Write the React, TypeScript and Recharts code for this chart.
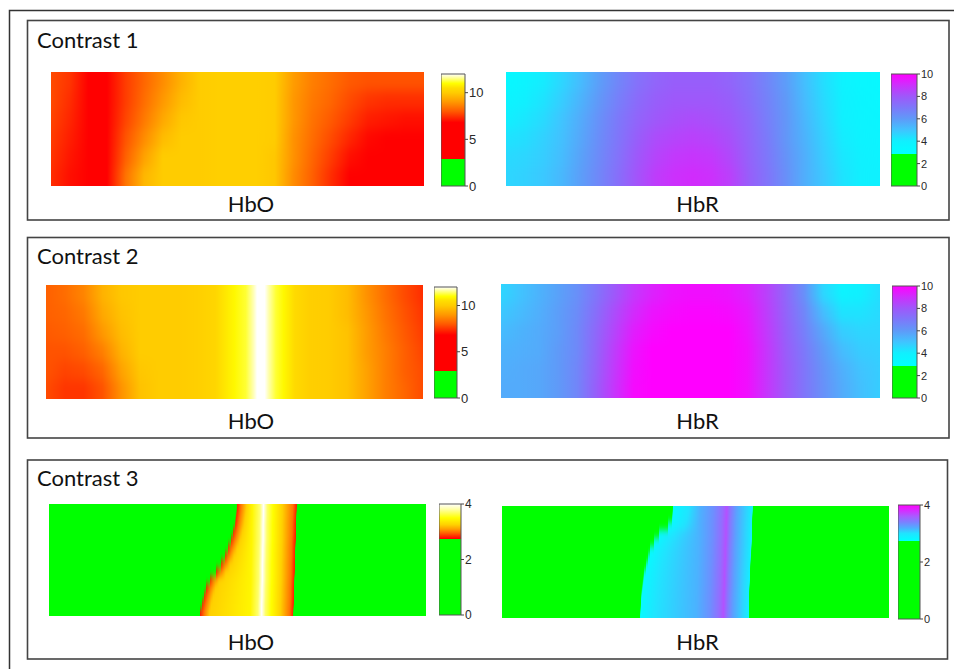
import React from 'react';
import { BarChart, Bar, XAxis, YAxis } from 'recharts';

type Stop = [number, string];
type Point = [number, number];

// sample positions across each map, in % of its width
const xs5 = [0, 5, 10, 15, 20, 25, 30, 35, 40, 45, 50, 55, 60, 65, 70, 75, 80, 85, 90, 95, 100];
const c2HboXs = [0, 5, 10, 15, 20, 25, 30, 35, 40, 45, 50, 53, 55, 56, 57, 58, 59, 61, 63, 66, 70, 75, 80, 85, 90, 95, 100];

// Contrast 1 (rows top -> bottom)
const c1Hbo = [
  [7.8, 7.5, 6.6, 6.5, 7.6, 8.2, 8.8, 9.5, 10, 10.1, 10.1, 10.1, 10, 9.1, 8.6, 8.3, 8.0, 7.9, 7.9, 7.9, 7.9],
  [7.8, 7.4, 6.5, 6.4, 7.6, 8.3, 9.0, 9.7, 10, 10.1, 10.1, 10.1, 10, 9.0, 8.5, 8.2, 7.8, 7.5, 7.4, 7.4, 7.4],
  [7.7, 7.3, 6.4, 6.4, 7.7, 8.5, 9.3, 9.9, 10, 10.1, 10.1, 10.1, 10, 9.0, 8.4, 8.0, 7.6, 7.2, 7.1, 7.0, 7.0],
  [7.6, 7.2, 6.3, 6.5, 7.9, 8.8, 9.7, 10, 10, 10.1, 10.1, 10.1, 10, 8.9, 8.3, 7.8, 7.3, 6.9, 6.8, 6.7, 6.7],
  [7.5, 7.1, 6.2, 6.6, 8.1, 9.2, 10, 10, 10, 10.1, 10.1, 10.1, 9.9, 8.9, 8.2, 7.6, 7.0, 6.5, 6.3, 6.2, 6.2],
  [7.4, 7.0, 6.1, 6.8, 8.4, 9.6, 10, 10, 10, 10.1, 10.1, 10.1, 9.9, 8.8, 8.1, 7.4, 6.7, 6.2, 6.0, 6.0, 6.0],
];
const c1Hbr = [
  [3.4, 3.7, 4.1, 4.6, 5.2, 5.9, 6.6, 7.2, 7.6, 7.8, 7.8, 7.8, 7.6, 7.2, 6.6, 5.9, 5.1, 4.4, 3.8, 3.5, 3.4],
  [3.7, 4.0, 4.3, 4.8, 5.4, 6.1, 6.8, 7.4, 7.8, 8.0, 8.0, 8.0, 7.8, 7.3, 6.7, 6.0, 5.2, 4.5, 3.9, 3.6, 3.5],
  [4.0, 4.2, 4.5, 5.0, 5.6, 6.3, 7.0, 7.6, 8.0, 8.2, 8.3, 8.2, 8.0, 7.5, 6.8, 6.1, 5.3, 4.6, 4.0, 3.7, 3.6],
  [4.3, 4.4, 4.7, 5.1, 5.7, 6.4, 7.1, 7.8, 8.3, 8.5, 8.6, 8.5, 8.2, 7.6, 6.9, 6.1, 5.4, 4.7, 4.1, 3.8, 3.7],
  [4.5, 4.6, 4.8, 5.2, 5.8, 6.5, 7.2, 8.0, 8.5, 8.8, 8.9, 8.8, 8.4, 7.7, 7.0, 6.2, 5.5, 4.8, 4.2, 3.9, 3.8],
  [4.6, 4.7, 4.9, 5.3, 5.9, 6.6, 7.3, 8.1, 8.7, 9.0, 9.1, 9.0, 8.6, 7.8, 7.1, 6.3, 5.5, 4.9, 4.3, 4.0, 3.9],
];

// Contrast 2
const c2Hbo = [
  [8.1, 8.3, 8.7, 9.5, 9.9, 10, 10, 10, 10.1, 10.3, 10.9, 11.2, 11.7, 12, 12, 12, 11.7, 11.2, 10.9, 10.4, 10.1, 10, 9.7, 8.9, 8.3, 7.8, 7.4],
  [8.1, 8.2, 8.5, 9.3, 9.8, 10, 10, 10, 10.1, 10.3, 10.9, 11.2, 11.7, 12, 12, 12, 11.7, 11.2, 10.9, 10.4, 10.1, 10, 9.7, 9.0, 8.4, 7.9, 7.5],
  [8.0, 8.1, 8.3, 9.0, 9.7, 10, 10, 10, 10.1, 10.3, 10.9, 11.2, 11.7, 12, 12, 12, 11.7, 11.2, 10.9, 10.4, 10.1, 10, 9.8, 9.1, 8.5, 8.0, 7.6],
  [7.9, 7.9, 8.1, 8.6, 9.5, 10, 10, 10, 10.1, 10.3, 10.9, 11.2, 11.7, 12, 12, 12, 11.7, 11.2, 10.9, 10.4, 10.1, 10, 9.8, 9.1, 8.6, 8.1, 7.7],
  [7.9, 7.7, 7.8, 8.2, 9.2, 9.9, 10, 10, 10.1, 10.3, 10.9, 11.2, 11.7, 12, 12, 12, 11.7, 11.2, 10.9, 10.4, 10.1, 10, 9.8, 9.2, 8.6, 8.1, 7.8],
  [7.8, 7.5, 7.5, 7.9, 8.9, 9.8, 10, 10, 10.1, 10.3, 10.9, 11.2, 11.7, 12, 12, 12, 11.7, 11.2, 10.9, 10.4, 10.1, 10, 9.8, 9.2, 8.6, 8.2, 7.8],
];
const c2Hbr = [
  [4.6, 5.0, 5.4, 5.8, 6.3, 7.1, 8.0, 8.8, 9.3, 9.6, 9.7, 9.7, 9.6, 9.3, 8.6, 7.6, 6.3, 4.6, 3.8, 4.0, 4.4],
  [4.9, 5.2, 5.5, 5.9, 6.4, 7.3, 8.3, 9.1, 9.6, 9.8, 9.9, 9.9, 9.8, 9.5, 8.7, 7.7, 6.6, 5.2, 4.3, 4.3, 4.5],
  [5.2, 5.4, 5.6, 5.9, 6.5, 7.5, 8.5, 9.4, 9.8, 10, 10, 10, 10, 9.6, 8.8, 7.8, 6.8, 5.7, 4.8, 4.6, 4.6],
  [5.4, 5.5, 5.6, 6.0, 6.5, 7.6, 8.7, 9.6, 10, 10, 10, 10, 10, 9.7, 8.9, 7.9, 7.0, 6.0, 5.2, 4.8, 4.7],
  [5.5, 5.6, 5.7, 6.0, 6.6, 7.7, 8.8, 9.7, 10, 10, 10, 10, 10, 9.7, 8.9, 8.0, 7.1, 6.2, 5.5, 5.0, 4.8],
  [5.6, 5.6, 5.7, 6.0, 6.6, 7.8, 8.9, 9.8, 10, 10, 10, 10, 10, 9.7, 8.9, 8.0, 7.1, 6.3, 5.6, 5.1, 4.8],
];

// Contrast 3: the active band only; every row gives where each level sits (% of width)
const c3Below = 1;
const c3HboLevels = [2.8, 3.0, 3.25, 3.45, 3.7, 4.0, 3.7, 3.5, 3.25, 3.0, 2.8];
const c3HboEdges = [
  [49.9, 50.9, 52.4, 53.9, 55.9, 56.9, 57.9, 59.4, 61.9, 64.7, 65.7],
  [49.6, 50.6, 52.1, 53.9, 55.9, 56.9, 57.9, 59.4, 61.9, 64.6, 65.6],
  [49.3, 50.3, 51.8, 53.8, 55.8, 56.8, 57.8, 59.3, 61.8, 64.5, 65.5],
  [48.8, 49.8, 51.3, 53.8, 55.8, 56.8, 57.8, 59.3, 61.8, 64.5, 65.5],
  [48.2, 49.2, 50.7, 53.8, 55.8, 56.8, 57.8, 59.3, 61.8, 64.4, 65.4],
  [47.4, 48.4, 49.9, 53.7, 55.7, 56.7, 57.7, 59.2, 61.7, 64.3, 65.3],
  [46.6, 47.6, 49.1, 53.7, 55.7, 56.7, 57.7, 59.2, 61.7, 64.3, 65.3],
  [45.6, 46.6, 48.1, 53.6, 55.6, 56.6, 57.6, 59.1, 61.6, 64.2, 65.2],
  [44.4, 45.4, 46.9, 53.6, 55.6, 56.6, 57.6, 59.1, 61.6, 64.2, 65.2],
  [42.6, 43.6, 45.1, 53.6, 55.6, 56.6, 57.6, 59.1, 61.6, 64.1, 65.1],
  [41.7, 42.7, 44.2, 53.5, 55.5, 56.5, 57.5, 59.0, 61.5, 64.0, 65.0],
  [41.1, 42.1, 43.6, 53.5, 55.5, 56.5, 57.5, 59.0, 61.5, 64.0, 65.0],
  [40.6, 41.6, 43.1, 53.4, 55.4, 56.4, 57.4, 58.9, 61.4, 63.9, 64.9],
  [40.1, 41.1, 42.6, 53.4, 55.4, 56.4, 57.4, 58.9, 61.4, 63.8, 64.8],
];
const c3HbrLevels = [2.8, 3.0, 3.18, 3.33, 3.5, 3.65, 3.45, 3.25, 3.05, 2.9];
const c3HbrEdges = [
  [44.2, 48.2, 51.1, 54.6, 56.9, 58.1, 59.1, 60.6, 63.3, 64.8],
  [43.8, 47.8, 51.0, 54.5, 56.8, 58.0, 59.0, 60.5, 63.2, 64.7],
  [43.0, 47.0, 50.9, 54.4, 56.7, 57.9, 58.9, 60.4, 63.1, 64.6],
  [40.5, 44.5, 50.9, 54.4, 56.7, 57.9, 58.9, 60.4, 63.0, 64.5],
  [39.2, 43.2, 50.8, 54.3, 56.6, 57.8, 58.8, 60.3, 63.0, 64.5],
  [38.3, 42.3, 50.7, 54.2, 56.5, 57.7, 58.7, 60.2, 62.9, 64.4],
  [37.7, 41.7, 50.7, 54.2, 56.5, 57.7, 58.7, 60.2, 62.8, 64.3],
  [37.2, 41.2, 50.6, 54.1, 56.4, 57.6, 58.6, 60.1, 62.7, 64.2],
  [36.8, 40.8, 50.5, 54.0, 56.3, 57.5, 58.5, 60.0, 62.6, 64.1],
  [36.5, 40.5, 50.5, 54.0, 56.3, 57.5, 58.5, 60.0, 62.5, 64.0],
  [36.2, 40.2, 50.4, 53.9, 56.2, 57.4, 58.4, 59.9, 62.4, 63.9],
  [36.0, 40.0, 50.3, 53.8, 56.1, 57.3, 58.3, 59.8, 62.4, 63.9],
  [35.8, 39.8, 50.3, 53.8, 56.1, 57.3, 58.3, 59.8, 62.3, 63.8],
  [35.6, 39.6, 50.2, 53.7, 56.0, 57.2, 58.2, 59.7, 62.2, 63.7],
];

const hboTicks = [0, 5, 10];
const hbrTicks = [0, 2, 4, 6, 8, 10];
const c3Ticks = [0, 2, 4];

// colour scales
const G = '#00ff00';
const hboScale: Stop[] = [[0, G], [2.9, G], [2.9, '#ff0000'], [6.8, '#ff0000'], [8, '#ff5a00'], [9, '#ff9800'], [10, '#ffcc00'], [10.5, '#ffdd00'], [11, '#ffff00'], [11.5, '#ffff80'], [12, '#ffffff']];
const hbrScale: Stop[] = [[0, G], [2.9, G], [2.9, '#00ffff'], [4, '#10f0ff'], [5, '#40c4ff'], [6, '#5f9af8'], [7, '#7d78fa'], [8, '#9e58fa'], [9, '#cc30fc'], [10, '#ff00ff']];
const hboScale3: Stop[] = [[0, G], [2.75, G], [2.75, '#ff0000'], [2.95, '#ff6000'], [3.1, '#ffa000'], [3.25, '#ffd000'], [3.5, '#ffff00'], [3.8, '#ffffa0'], [4, '#ffffff']];
const hbrScale3: Stop[] = [[0, G], [2.75, G], [2.75, '#00ffff'], [3.0, '#20e4ff'], [3.2, '#50acff'], [3.4, '#7c80ff'], [3.6, '#a85cff'], [3.8, '#d42eff'], [4, '#ff00ff']];

const rgb = (c: string) => [1, 3, 5].map(i => parseInt(c.slice(i, i + 2), 16));
const colorAt = (stops: Stop[], v: number) => {
  if (v <= stops[0][0]) return stops[0][1];
  for (let i = 0; i < stops.length - 1; i++) {
    const [a, ca] = stops[i];
    const [b, cb] = stops[i + 1];
    if (b > a && v >= a && v < b) {
      const t = (v - a) / (b - a);
      const p = rgb(ca), q = rgb(cb);
      return `rgb(${p.map((x, k) => Math.round(x + (q[k] - x) * t)).join(',')})`;
    }
  }
  return stops[stops.length - 1][1];
};

const gridRows = (xs: number[], rows: number[][]): Point[][] =>
  rows.map(r => r.map((v, i) => [xs[i], v] as Point));
const bandRows = (edges: number[][], levels: number[], below: number): Point[][] =>
  edges.map(e => [
    [0, below], [e[0], below],
    ...e.map((x, i) => [x, levels[i]] as Point),
    [e[e.length - 1], below], [100, below],
  ] as Point[]);

// rows are drawn as full-width bars; the outer ones run past the plot so the
// vertical smoothing does not fade at the edges (the overflow is clipped)
const EXT = 20;
const Heatmap = ({ id, rows, scale, width, height, blur }: { id: string; rows: Point[][]; scale: Stop[]; width: number; height: number; blur: string }) => {
  const data = rows.map((_, i) => ({ row: i, span: 100 }));
  const last = rows.length - 1;
  const drawRow = (p: any) => {
    const i = p.payload.row;
    const top = i === 0 ? p.y - EXT : p.y;
    const bottom = i === last ? p.y + p.height + EXT : p.y + p.height + 0.5;
    return <rect x={p.x} y={top} width={p.width} height={bottom - top} fill={`url(#${id}-${i})`} />;
  };
  return (
    <div style={{ width, height, overflow: 'hidden' }}>
      <div style={{ marginTop: -EXT, filter: `url(#${blur})` }}>
        <BarChart width={width} height={height + 2 * EXT} data={data} layout="vertical" margin={{ top: EXT, right: 0, bottom: EXT, left: 0 }} barCategoryGap={0}>
          <defs>
            {rows.map((r, i) => (
              <linearGradient key={i} id={`${id}-${i}`} x1="0" y1="0" x2="1" y2="0">
                {r.map(([x, v], j) => <stop key={j} offset={`${x}%`} stopColor={colorAt(scale, v)} />)}
              </linearGradient>
            ))}
          </defs>
          <XAxis type="number" domain={[0, 100]} hide />
          <YAxis type="category" dataKey="row" hide />
          <Bar dataKey="span" isAnimationActive={false} shape={drawRow} />
        </BarChart>
      </div>
    </div>
  );
};

const PAD = 8;
const ColorBar = ({ id, scale, max, ticks, barWidth, height, fontSize }: { id: string; scale: Stop[]; max: number; ticks: number[]; barWidth: number; height: number; fontSize: number }) => (
  <BarChart width={barWidth + 26} height={height + 2 * PAD} data={[{ name: 'bar', v: max }]} margin={{ top: PAD, right: 0, bottom: PAD, left: 0 }} barCategoryGap={0}>
    <defs>
      <linearGradient id={id} x1="0" y1="1" x2="0" y2="0">
        {scale.map(([v, c], j) => <stop key={j} offset={v / max} stopColor={c} />)}
      </linearGradient>
    </defs>
    <XAxis dataKey="name" hide />
    <YAxis orientation="right" type="number" domain={[0, max]} ticks={ticks} interval={0} width={26} axisLine={false}
      stroke="#333" tickSize={3} tickMargin={1} tickLine={{ stroke: '#444' }}
      tick={{ fontSize, fill: '#2a2a2a', fontFamily: 'Liberation Sans, Arial, sans-serif' }} />
    <Bar dataKey="v" fill={`url(#${id})`} stroke="#555" strokeWidth={1} isAnimationActive={false} />
  </BarChart>
);

const maps = [
  { id: 'c1o', rows: gridRows(xs5, c1Hbo), scale: hboScale, blur: 'vsoft', x: 51, y: 72, w: 373, h: 114 },
  { id: 'c1r', rows: gridRows(xs5, c1Hbr), scale: hbrScale, blur: 'vsoft', x: 506, y: 72, w: 374, h: 114 },
  { id: 'c2o', rows: gridRows(c2HboXs, c2Hbo), scale: hboScale, blur: 'vsoft', x: 46, y: 285, w: 377, h: 114 },
  { id: 'c2r', rows: gridRows(xs5, c2Hbr), scale: hbrScale, blur: 'vsoft', x: 501, y: 284, w: 379, h: 114 },
  { id: 'c3o', rows: bandRows(c3HboEdges, c3HboLevels, c3Below), scale: hboScale3, blur: 'vsharp', x: 49, y: 504, w: 377, h: 112 },
  { id: 'c3r', rows: bandRows(c3HbrEdges, c3HbrLevels, c3Below), scale: hbrScale3, blur: 'vsharp', x: 502, y: 506, w: 387, h: 112 },
];

const bars = [
  { id: 'cb1o', scale: hboScale, max: 12, ticks: hboTicks, x: 441, y: 74, w: 24, h: 112, fs: 13 },
  { id: 'cb1r', scale: hbrScale, max: 10, ticks: hbrTicks, x: 891, y: 74, w: 26, h: 112, fs: 11 },
  { id: 'cb2o', scale: hboScale, max: 12, ticks: hboTicks, x: 434, y: 287, w: 23, h: 111, fs: 13 },
  { id: 'cb2r', scale: hbrScale, max: 10, ticks: hbrTicks, x: 892, y: 286, w: 25, h: 112, fs: 11 },
  { id: 'cb3o', scale: hboScale3, max: 4, ticks: c3Ticks, x: 439, y: 504, w: 22, h: 111, fs: 12 },
  { id: 'cb3r', scale: hbrScale3, max: 4, ticks: c3Ticks, x: 898, y: 505, w: 22, h: 114, fs: 11 },
];

const panels = [
  { title: 'Contrast 1', top: 20.5, bottom: 220, right: 949, titleY: 48, labelY: 212 },
  { title: 'Contrast 2', top: 237.5, bottom: 438, right: 949, titleY: 264, labelY: 429 },
  { title: 'Contrast 3', top: 460, bottom: 659, right: 947.5, titleY: 486, labelY: 650 },
];

const font = 'Lato, "Open Sans", sans-serif';

export default function App() {
  return (
    <div style={{ position: 'absolute', left: 0, top: 0, width: 954, height: 669, overflow: 'hidden', background: '#fff' }}>
      <svg width={954} height={669} style={{ position: 'absolute', left: 0, top: 0 }}>
        <defs>
          <filter id="vsoft" x="0" y="-0.2" width="1" height="1.4" colorInterpolationFilters="sRGB">
            <feGaussianBlur stdDeviation="0 6" />
          </filter>
          <filter id="vsharp" x="0" y="-0.2" width="1" height="1.4" colorInterpolationFilters="sRGB">
            <feGaussianBlur stdDeviation="0 3.5" />
          </filter>
        </defs>
        <rect x={9.5} y={10.5} width={980} height={700} fill="none" stroke="#333" strokeWidth={1.5} />
        {panels.map(p => (
          <g key={p.title}>
            <rect x={27.5} y={p.top} width={p.right - 27.5} height={p.bottom - p.top} fill="none" stroke="#444" strokeWidth={1.6} />
            <text x={37} y={p.titleY} fontSize={22} fontFamily={font} fill="#111">{p.title}</text>
            <text x={251} y={p.labelY} fontSize={22} fontFamily={font} fill="#111" textAnchor="middle">HbO</text>
            <text x={697.5} y={p.labelY} fontSize={22} fontFamily={font} fill="#111" textAnchor="middle">HbR</text>
          </g>
        ))}
      </svg>
      {maps.map(m => (
        <div key={m.id} style={{ position: 'absolute', left: m.x, top: m.y }}>
          <Heatmap id={m.id} rows={m.rows} scale={m.scale} width={m.w} height={m.h} blur={m.blur} />
        </div>
      ))}
      {bars.map(b => (
        <div key={b.id} style={{ position: 'absolute', left: b.x, top: b.y - PAD }}>
          <ColorBar id={b.id} scale={b.scale} max={b.max} ticks={b.ticks} barWidth={b.w} height={b.h} fontSize={b.fs} />
        </div>
      ))}
    </div>
  );
}
